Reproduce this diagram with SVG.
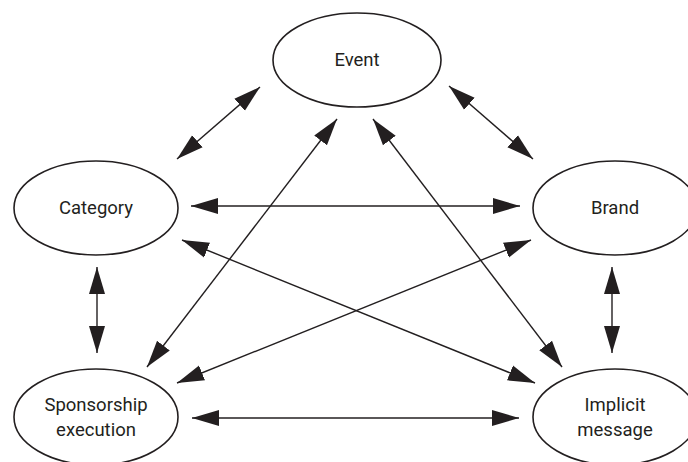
<svg xmlns="http://www.w3.org/2000/svg" width="688" height="462" viewBox="0 0 688 462">
<style>
.node ellipse{fill:#fff;stroke:#231f20;stroke-width:1.6}
.node text{font-family:Roboto,"Open Sans","Liberation Sans",sans-serif;font-size:18.5px;fill:#231f20;text-anchor:middle}
.conn line{stroke:#231f20;stroke-width:1.4;marker-start:url(#ah);marker-end:url(#ah)}
</style>
<defs>
<marker id="ah" markerUnits="userSpaceOnUse" markerWidth="28" markerHeight="18" viewBox="0 0 28 18" refX="27" refY="9" orient="auto-start-reverse">
<path d="M0,1 L27,9 L0,17 z" fill="#231f20"/>
</marker>
</defs>
<rect width="688" height="462" fill="#fff"/>
<g class="conn">
<line x1="260" y1="87" x2="177" y2="159"/>
<line x1="449" y1="86" x2="533" y2="159"/>
<line x1="191" y1="206" x2="520" y2="206"/>
<line x1="97" y1="267" x2="97" y2="353"/>
<line x1="612" y1="267" x2="612" y2="353"/>
<line x1="192" y1="418" x2="519" y2="418"/>
<line x1="337" y1="119" x2="147" y2="367"/>
<line x1="373" y1="119" x2="562" y2="367"/>
<line x1="182" y1="240" x2="535" y2="383"/>
<line x1="531" y1="240" x2="177" y2="383"/>
</g>
<g id="event" class="node">
<ellipse cx="357" cy="60" rx="84" ry="47"/>
<text x="357" y="66">Event</text>
</g>
<g id="category" class="node">
<ellipse cx="96" cy="208" rx="82" ry="47"/>
<text x="96" y="214">Category</text>
</g>
<g id="brand" class="node">
<ellipse cx="615" cy="208" rx="82" ry="47"/>
<text x="615" y="214">Brand</text>
</g>
<g id="sponsorship" class="node">
<ellipse cx="96" cy="417" rx="82" ry="48"/>
<text x="96" y="411">Sponsorship</text>
<text x="96" y="436">execution</text>
</g>
<g id="implicit" class="node">
<ellipse cx="615" cy="417" rx="82" ry="48"/>
<text x="615" y="411">Implicit</text>
<text x="615" y="436">message</text>
</g>
</svg>
